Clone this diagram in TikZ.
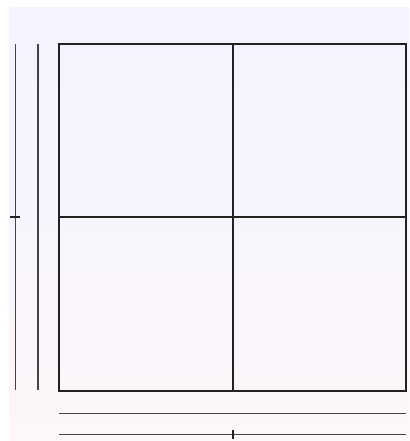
\documentclass[tikz,border=0pt]{standalone}
\usetikzlibrary{calc}
\definecolor{bgtop}{HTML}{F4F3FF}
\definecolor{bgbot}{HTML}{FDF6FA}
\definecolor{gridc}{HTML}{222222}
\definecolor{axisc}{HTML}{444444}
\tikzset{
  gridline/.style={draw=gridc, line width=1.3bp},
  axisline/.style={draw=axisc, line width=1.5bp},
  tickline/.style={draw=gridc, line width=1.3bp},
}
\begin{document}
\begin{tikzpicture}[x=1bp,y=-1bp]
\useasboundingbox (0,0) rectangle (409,441);
\fill[white] (0,0) rectangle (409,441);
\shade[top color=bgtop, bottom color=bgbot] (9,8) rectangle (409,441);
% grid
\draw[gridline] (59,44) rectangle (406,391);
\draw[gridline] (233,44) -- (233,391);
\draw[gridline] (59,217) -- (406,217);
% left axis lines
\draw[axisline] (15.5,44) -- (15.5,390);
\draw[axisline] (38,44) -- (38,390);
\draw[tickline] (10,217) -- (20,217);
% bottom axis lines
\draw[axisline] (59,413.5) -- (406,413.5);
\draw[axisline] (59,434.5) -- (406,434.5);
\draw[tickline] (233,429.5) -- (233,438.5);
\end{tikzpicture}
\end{document}
